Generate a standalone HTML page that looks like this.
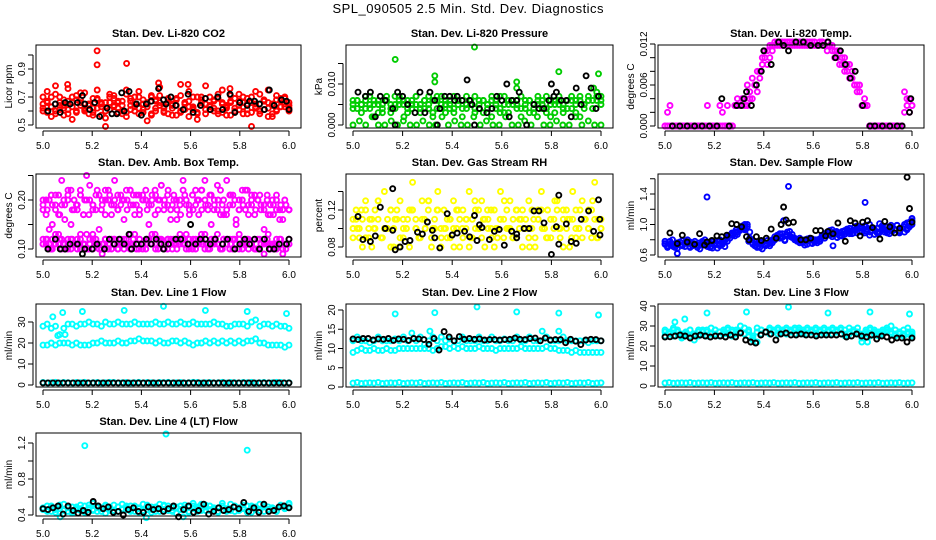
<!DOCTYPE html>
<html><head><meta charset="utf-8">
<style>
html,body{margin:0;padding:0;background:#fff;}
svg{display:block;font-family:"Liberation Sans",sans-serif;}
</style></head>
<body>
<svg id="chart" width="936" height="540" viewBox="0 0 936 540" xmlns="http://www.w3.org/2000/svg">
<rect width="936" height="540" fill="#fff"/>
<text x="468" y="13" font-size="13" text-anchor="middle" textLength="271">SPL_090505  2.5 Min. Std. Dev. Diagnostics</text>
</svg>
<script>
// ---------- data (x evenly spaced 5.0..6.0 when no x array) ----------
const co2A=[0.62,0.66,0.70,0.60,0.64,0.68,0.58,0.63,0.71,0.66,0.60,0.65,0.69,0.62,0.57,0.66,0.70,0.64,0.59,0.67,0.72,0.61,0.65,0.58,0.68,0.63,0.70,0.60,0.66,0.62,0.69,0.57,0.64,0.71,0.61,0.67,0.63,0.59,0.68,0.65,0.70,0.62,0.58,0.66,0.64,0.71,0.60,0.67,0.63,0.69,0.59,0.65,0.72,0.61,0.66,0.58,0.68,0.63,0.70,0.62];
const co2B=[0.65,0.59,0.63,0.72,0.61,0.57,0.67,0.70,0.60,0.64,0.73,0.58,0.62,0.68,0.65,0.55,0.61,0.69,0.66,0.60,0.56,0.64,0.70,0.62,0.59,0.66,0.57,0.67,0.71,0.63,0.58,0.65,0.68,0.60,0.66,0.56,0.62,0.70,0.64,0.58,0.61,0.67,0.72,0.59,0.63,0.57,0.69,0.61,0.66,0.58,0.70,0.62,0.60,0.67,0.56,0.64,0.61,0.69,0.65,0.60];
const co2C=[0.70,0.74,0.56,0.78,0.66,0.62,0.76,0.54,0.68,0.73,0.61,0.64,0.59,0.75,0.66,0.49,0.72,0.63,0.67,0.58,0.75,0.69,0.60,0.74,0.65,0.53,0.71,0.62,0.77,0.59,0.68,0.64,0.57,0.79,0.66,0.74,0.61,0.54,0.70,0.78,0.63,0.60,0.69,0.75,0.57,0.66,0.62,0.72,0.58,0.65,0.49,0.74,0.60,0.67,0.75,0.56,0.71,0.63,0.69,0.66];
const co2D=[0.60,0.67,0.63,0.58,0.70,0.64,0.61,0.66,0.59,0.68,0.62,0.65,0.57,0.69,0.63,0.60,0.66,0.71,0.62,0.64,0.59,0.67,0.63,0.70,0.61,0.65,0.58,0.68,0.64,0.60,0.66,0.62,0.69,0.59,0.65,0.63,0.70,0.58,0.66,0.61,0.64,0.68,0.60,0.65,0.62,0.67,0.59,0.64,0.70,0.61,0.66,0.63,0.58,0.68,0.62,0.65,0.60,0.67,0.63,0.64];
const co2OutX=[5.22,5.22,5.34,5.10,5.47,5.59,5.76];
const co2OutY=[1.03,0.93,0.94,0.79,0.80,0.79,0.76];
const co2BlkX=[5.02,5.05,5.07,5.09,5.11,5.14,5.16,5.17,5.19,5.21,5.23,5.26,5.28,5.30,5.32,5.33,5.35,5.38,5.40,5.42,5.44,5.47,5.49,5.50,5.52,5.54,5.57,5.59,5.61,5.64,5.66,5.68,5.71,5.73,5.76,5.78,5.80,5.83,5.84,5.86,5.88,5.90,5.92,5.94,5.97,5.99,6.00];
const co2BlkY=[0.60,0.65,0.59,0.66,0.65,0.66,0.71,0.65,0.61,0.66,0.56,0.62,0.58,0.58,0.73,0.60,0.74,0.65,0.57,0.65,0.67,0.76,0.68,0.65,0.70,0.64,0.61,0.72,0.59,0.64,0.69,0.61,0.70,0.61,0.72,0.59,0.66,0.64,0.67,0.67,0.65,0.61,0.75,0.64,0.68,0.67,0.61];

const presA=[0.006,0.004,0.003,0.006,0.005,0.002,0.006,0.004,0.006,0.003,0.005,0.006,0.001,0.004,0.006,0.005,0.003,0.006,0.004,0.002,0.006,0.005,0.003,0.006,0.004,0.006,0.002,0.005,0.006,0.003,0.004,0.006,0.005,0.002,0.006,0.004,0.003,0.006,0.005,0.006,0.002,0.004,0.006,0.003,0.005,0.006,0.004,0.002,0.006,0.005,0.003,0.006,0.004,0.006,0.002,0.005,0.006,0.004,0.007,0.006];
const presB=[0.005,0.006,0.005,0.004,0.007,0.005,0.003,0.005,0.007,0.005,0.004,0.007,0.005,0.006,0.004,0.007,0.005,0.004,0.007,0.006,0.004,0.007,0.005,0.004,0.007,0.005,0.006,0.004,0.005,0.007,0.005,0.006,0.004,0.007,0.005,0.003,0.007,0.005,0.006,0.004,0.007,0.005,0.006,0.004,0.007,0.005,0.003,0.006,0.005,0.007,0.004,0.006,0.007,0.005,0.006,0.004,0.007,0.006,0.008,0.007];
const presC=[0.000,0.001,0.000,0.002,0.000,0.000,0.001,0.000,0.002,0.000,0.000,0.001,0.000,0.000,0.002,0.000,0.001,0.000,0.000,0.002,0.000,0.001,0.000,0.000,0.002,0.000,0.000,0.001,0.000,0.002,0.000,0.000,0.001,0.000,0.000,0.002,0.000,0.001,0.000,0.000];
const presD=[0.004,0.006,0.005,0.007,0.004,0.006,0.005,0.003,0.006,0.004,0.007,0.005,0.006,0.003,0.005,0.007,0.004,0.006,0.005,0.003,0.007,0.004,0.006,0.005,0.003,0.006,0.004,0.007,0.005,0.004,0.006,0.003,0.005,0.006,0.004,0.007,0.005,0.003,0.006,0.005,0.004,0.006,0.003,0.005,0.006,0.004,0.007,0.005,0.003,0.006,0.005,0.004,0.006,0.003,0.007,0.005,0.006,0.004,0.006,0.005];
const presOutX=[5.17,5.49,5.33,5.33,5.83,5.99,5.66,5.66,5.97];
const presOutY=[0.016,0.019,0.012,0.0105,0.013,0.0125,0.0105,0.009,0.009];
const presBlkX=[5.02,5.05,5.07,5.09,5.11,5.13,5.16,5.17,5.18,5.20,5.22,5.25,5.27,5.29,5.31,5.33,5.34,5.35,5.37,5.39,5.41,5.42,5.44,5.46,5.47,5.48,5.49,5.51,5.54,5.56,5.58,5.60,5.62,5.63,5.64,5.66,5.67,5.70,5.73,5.75,5.77,5.79,5.80,5.81,5.82,5.84,5.86,5.88,5.90,5.92,5.94,5.96,5.98,5.99];
const presBlkY=[0.008,0.007,0.008,0.002,0.007,0.006,0.004,0.000,0.008,0.007,0.005,0.003,0.008,0.003,0.008,0.006,0.000,0.004,0.007,0.007,0.006,0.007,0.006,0.011,0.006,0.005,0.000,0.004,0.003,0.004,0.007,0.006,0.010,0.002,0.006,0.006,0.008,0.000,0.005,0.004,0.004,0.006,0.010,0.007,0.008,0.006,0.006,0.002,0.009,0.005,0.012,0.009,0.004,0.007];

const tempA=[0,0.002,0.003,0,0,0,0,0,0,0,0,0,0,0,0,0,0,0.003,0,0,0,0,0.003,0.002,0,0.003,0,0,0.003,0.003,0.003,0.004,0.004,0.003,0.005,0.004,0.006,0.005,0.008,0.009,0.010,0.011,0.010,0.0118,0.0118,0.0123,0.0118,0.0123,0.0123,0.0118,0.0123,0.0123,0.0118,0.0123,0.0123,0.0118,0.0123,0.0123,0.0123,0.0118,0.0123,0.0118,0.0123,0.0123,0.0118,0.0123,0.0118,0.0118,0.011,0.010,0.011,0.009,0.010,0.008,0.009,0.007,0.006,0.006,0.005,0.003,0.003,0.003,0,0,0,0,0,0,0,0,0,0,0,0,0,0,0.002,0.003,0.004,0.003];
const tempB=[0,0,0,0,0,0,0,0,0,0,0,0,0,0,0,0,0,0,0,0,0,0,0,0,0,0,0,0,0.003,0.004,0.003,0.004,0.003,0.006,0.004,0.007,0.006,0.008,0.007,0.010,0.011,0.009,0.0118,0.011,0.0123,0.0118,0.0123,0.0118,0.0118,0.0123,0.0118,0.0118,0.0123,0.0118,0.0118,0.0123,0.0118,0.0118,0.0118,0.0123,0.0118,0.0118,0.0118,0.0123,0.0118,0.011,0.0118,0.011,0.010,0.011,0.009,0.010,0.008,0.009,0.007,0.008,0.006,0.005,0.006,0.003,0.004,0.003,0,0,0,0,0,0,0,0,0,0,0,0,0,0,0.005,0.004,0.002,0.003];
const tempBlkX=[5.03,5.06,5.09,5.12,5.15,5.18,5.21,5.23,5.26,5.29,5.31,5.32,5.33,5.35,5.37,5.39,5.40,5.43,5.46,5.48,5.50,5.53,5.56,5.59,5.62,5.64,5.66,5.69,5.71,5.73,5.75,5.77,5.80,5.83,5.85,5.88,5.91,5.94,5.96,5.99,5.995];
const tempBlkY=[0,0,0,0,0,0,0,0.004,0,0.003,0.003,0.004,0.005,0.003,0.006,0.008,0.011,0.009,0.0123,0.0118,0.011,0.0123,0.0123,0.0118,0.0118,0.0118,0.0123,0.010,0.011,0.009,0.007,0.008,0.003,0,0,0,0,0,0,0.002,0.004];

const ambA=[0.19,0.17,0.20,0.15,0.18,0.21,0.19,0.16,0.20,0.22,0.18,0.19,0.21,0.17,0.20,0.23,0.19,0.18,0.21,0.20,0.17,0.22,0.19,0.20,0.18,0.21,0.16,0.20,0.22,0.19,0.21,0.18,0.20,0.22,0.19,0.21,0.17,0.20,0.23,0.19,0.21,0.18,0.20,0.16,0.19,0.22,0.20,0.18,0.21,0.19,0.17,0.22,0.20,0.18,0.21,0.19,0.23,0.17,0.20,0.18,0.21,0.19,0.16,0.20,0.22,0.18,0.19,0.21,0.17,0.20,0.19,0.18,0.21,0.17,0.19,0.20,0.16,0.18,0.19,0.18];
const ambB=[0.18,0.20,0.14,0.19,0.21,0.17,0.24,0.19,0.21,0.15,0.20,0.18,0.22,0.17,0.25,0.20,0.18,0.21,0.14,0.19,0.22,0.20,0.17,0.24,0.21,0.19,0.20,0.18,0.22,0.21,0.19,0.17,0.21,0.20,0.15,0.20,0.22,0.18,0.23,0.20,0.19,0.16,0.21,0.18,0.20,0.24,0.19,0.17,0.21,0.22,0.20,0.18,0.24,0.19,0.15,0.20,0.18,0.22,0.17,0.24,0.19,0.21,0.15,0.18,0.20,0.22,0.17,0.19,0.21,0.20,0.18,0.14,0.20,0.19,0.17,0.21,0.18,0.16,0.19,0.18];
const ambE=[0.20,0.18,0.21,0.19,0.17,0.20,0.22,0.18,0.19,0.21,0.20,0.17,0.19,0.22,0.18,0.20,0.21,0.19,0.18,0.20,0.22,0.19,0.17,0.21,0.20,0.18,0.19,0.21,0.20,0.18,0.22,0.19,0.20,0.17,0.21,0.19,0.18,0.20,0.22,0.19,0.21,0.18,0.20,0.19,0.17,0.21,0.20,0.18,0.19,0.22,0.20,0.18,0.21,0.19,0.17,0.20,0.18,0.19,0.20,0.18];
const ambC=[0.12,0.11,0.10,0.12,0.11,0.13,0.10,0.11,0.12,0.10,0.11,0.12,0.10,0.11,0.13,0.11,0.10,0.12,0.11,0.09,0.12,0.11,0.10,0.12,0.11,0.12,0.10,0.11,0.13,0.11,0.10,0.12,0.11,0.10,0.12,0.11,0.13,0.12,0.11,0.10,0.12,0.11,0.12,0.10,0.11,0.12,0.13,0.11,0.10,0.12,0.11,0.12,0.10,0.11,0.12,0.11,0.13,0.10,0.12,0.11,0.10,0.12,0.11,0.12,0.10,0.11,0.12,0.11,0.10,0.12,0.11,0.09,0.12,0.11,0.10,0.11,0.12,0.10,0.11,0.11];
const ambD=[0.11,0.12,0.11,0.10,0.13,0.11,0.12,0.10,0.11,0.12,0.11,0.10,0.12,0.11,0.10,0.12,0.13,0.11,0.10,0.11,0.12,0.10,0.12,0.11,0.10,0.11,0.12,0.11,0.10,0.12,0.11,0.12,0.10,0.11,0.12,0.13,0.11,0.10,0.12,0.11,0.10,0.12,0.11,0.12,0.13,0.11,0.10,0.12,0.11,0.10,0.12,0.11,0.13,0.10,0.11,0.12,0.11,0.10,0.12,0.11,0.12,0.10,0.11,0.13,0.11,0.12,0.10,0.11,0.12,0.10,0.11,0.12,0.11,0.10,0.11,0.12,0.11,0.09,0.10,0.12];
const ambF=[0.11,0.12,0.10,0.11,0.12,0.11,0.10,0.12,0.11,0.13,0.11,0.10,0.12,0.11,0.10,0.12,0.11,0.12,0.10,0.11,0.12,0.11,0.13,0.10,0.11,0.12,0.11,0.10,0.12,0.11,0.12,0.10,0.11,0.12,0.11,0.10,0.12,0.11,0.13,0.11,0.10,0.12,0.11,0.10,0.12,0.11,0.12,0.10,0.11,0.12,0.11,0.10,0.12,0.11,0.13,0.11,0.10,0.12,0.11,0.11];
const ambBlkX=[5.02,5.05,5.07,5.09,5.11,5.14,5.16,5.17,5.20,5.22,5.25,5.27,5.29,5.31,5.33,5.35,5.36,5.38,5.40,5.42,5.44,5.46,5.48,5.49,5.51,5.54,5.56,5.59,5.60,5.62,5.64,5.66,5.68,5.70,5.73,5.75,5.78,5.80,5.82,5.84,5.86,5.88,5.90,5.92,5.94,5.96,5.99,6.00];
const ambBlkY=[0.10,0.12,0.10,0.10,0.11,0.11,0.09,0.10,0.10,0.11,0.10,0.12,0.11,0.12,0.11,0.13,0.10,0.11,0.11,0.12,0.11,0.12,0.11,0.10,0.11,0.12,0.12,0.11,0.15,0.11,0.12,0.12,0.11,0.12,0.11,0.12,0.10,0.11,0.12,0.11,0.12,0.10,0.12,0.10,0.10,0.11,0.11,0.12];

const rhA=[0.10,0.12,0.09,0.11,0.13,0.10,0.08,0.12,0.11,0.09,0.14,0.10,0.12,0.08,0.11,0.13,0.09,0.10,0.12,0.15,0.11,0.09,0.13,0.10,0.12,0.08,0.11,0.14,0.10,0.12,0.09,0.11,0.13,0.10,0.08,0.12,0.11,0.14,0.09,0.10,0.12,0.13,0.08,0.11,0.10,0.12,0.09,0.14,0.11,0.10,0.13,0.09,0.12,0.11,0.08,0.10,0.13,0.12,0.09,0.11,0.14,0.10,0.12,0.09,0.11,0.13,0.10,0.08,0.12,0.11,0.14,0.09,0.10,0.13,0.11,0.12,0.09,0.15,0.11,0.10];
const rhB=[0.09,0.11,0.10,0.08,0.12,0.09,0.11,0.10,0.13,0.09,0.10,0.11,0.08,0.10,0.12,0.09,0.11,0.10,0.08,0.12,0.10,0.09,0.11,0.10,0.13,0.09,0.10,0.12,0.08,0.10,0.11,0.09,0.10,0.12,0.11,0.09,0.10,0.08,0.11,0.12,0.10,0.09,0.11,0.10,0.12,0.08,0.10,0.11,0.09,0.12,0.10,0.11,0.09,0.10,0.12,0.11,0.09,0.10,0.08,0.11,0.12,0.10,0.09,0.11,0.10,0.12,0.09,0.11,0.10,0.08,0.11,0.12,0.10,0.09,0.11,0.10,0.12,0.11,0.09,0.10];
const rhC=[0.11,0.10,0.12,0.09,0.11,0.10,0.13,0.09,0.10,0.12,0.11,0.08,0.10,0.11,0.12,0.10,0.09,0.11,0.13,0.10,0.12,0.09,0.10,0.11,0.08,0.12,0.10,0.11,0.09,0.13,0.10,0.11,0.12,0.09,0.10,0.11,0.13,0.10,0.09,0.12,0.11,0.10,0.08,0.11,0.12,0.10,0.09,0.11,0.13,0.10,0.12,0.11,0.09,0.10,0.12,0.11,0.10,0.13,0.09,0.11];
const rhBlkX=[5.02,5.04,5.07,5.09,5.11,5.13,5.16,5.16,5.17,5.19,5.21,5.23,5.26,5.28,5.30,5.32,5.33,5.35,5.38,5.40,5.42,5.45,5.47,5.49,5.50,5.51,5.52,5.55,5.57,5.59,5.61,5.64,5.66,5.66,5.69,5.71,5.73,5.75,5.77,5.80,5.82,5.83,5.83,5.86,5.88,5.90,5.92,5.95,5.97,5.99,5.995,5.996];
const rhBlkY=[0.113,0.088,0.086,0.092,0.123,0.100,0.143,0.098,0.077,0.080,0.086,0.087,0.096,0.094,0.107,0.098,0.090,0.079,0.116,0.093,0.095,0.097,0.091,0.114,0.087,0.104,0.101,0.088,0.097,0.099,0.082,0.097,0.094,0.090,0.100,0.100,0.119,0.119,0.106,0.072,0.102,0.083,0.136,0.105,0.086,0.084,0.110,0.119,0.097,0.131,0.110,0.093];

const flowA=[0.75,0.72,0.78,0.74,0.70,0.76,0.73,0.79,0.71,0.75,0.77,0.72,0.74,0.70,0.76,0.78,0.73,0.71,0.75,0.69,0.74,0.78,0.72,0.76,0.79,0.82,0.86,0.88,0.85,0.90,0.94,0.98,1.00,0.97,0.82,0.76,0.72,0.75,0.70,0.78,0.73,0.74,0.77,0.80,0.84,0.86,0.82,0.88,0.80,0.90,0.85,0.87,0.82,0.78,0.82,0.76,0.80,0.74,0.79,0.81,0.77,0.80,0.78,0.84,0.88,0.86,0.92,0.84,0.90,0.88,0.85,0.91,0.87,0.90,0.95,0.88,0.93,0.98,0.91,0.96,0.89,0.94,1.00,0.92,0.87,0.95,0.90,0.98,0.93,0.89,0.96,0.91,0.94,0.99,0.92,0.95,0.90,1.02,0.97,1.05];
const flowB=[0.78,0.70,0.74,0.80,0.73,0.69,0.77,0.72,0.76,0.80,0.71,0.75,0.78,0.73,0.68,0.74,0.80,0.76,0.70,0.77,0.73,0.69,0.80,0.74,0.71,0.78,0.82,0.86,0.90,0.87,0.92,0.95,0.93,1.00,0.90,0.80,0.78,0.71,0.76,0.68,0.74,0.79,0.72,0.76,0.80,0.83,0.88,0.84,0.79,0.86,0.91,0.83,0.80,0.80,0.76,0.79,0.73,0.78,0.82,0.75,0.79,0.76,0.81,0.86,0.82,0.90,0.86,0.93,0.87,0.83,0.89,0.85,0.92,0.94,0.88,0.92,0.97,0.89,0.95,0.90,0.98,0.91,0.86,0.96,0.93,0.89,1.01,0.94,0.90,0.97,0.88,0.96,0.93,0.99,0.89,0.95,1.00,0.93,1.03,1.08];
const flowC=[0.74,0.77,0.71,0.76,0.73,0.78,0.70,0.75,0.72,0.77,0.74,0.71,0.76,0.73,0.78,0.84,0.89,0.93,0.96,0.95,0.78,0.74,0.70,0.77,0.72,0.75,0.79,0.85,0.83,0.87,0.84,0.81,0.79,0.77,0.81,0.76,0.80,0.78,0.85,0.89,0.87,0.91,0.86,0.88,0.92,0.89,0.95,0.91,0.97,0.90,0.94,0.88,0.96,0.92,0.99,0.93,0.91,0.97,0.95,1.00];
const flowOutX=[5.17,5.50,5.81,5.05,5.68,5.48];
const flowOutY=[1.36,1.50,1.29,0.62,0.72,1.05];
const flowBlkX=[5.02,5.05,5.07,5.09,5.12,5.14,5.16,5.17,5.19,5.21,5.23,5.25,5.27,5.29,5.31,5.33,5.34,5.37,5.39,5.41,5.43,5.45,5.47,5.48,5.49,5.50,5.52,5.55,5.57,5.59,5.61,5.63,5.65,5.66,5.68,5.70,5.73,5.75,5.77,5.79,5.80,5.82,5.84,5.87,5.89,5.91,5.93,5.95,5.98,5.99,6.00];
const flowBlkY=[0.89,0.75,0.86,0.77,0.74,0.88,0.73,0.77,0.79,0.85,0.84,0.86,1.01,1.00,0.97,0.84,0.80,0.84,0.79,0.82,0.94,0.82,1.00,1.23,1.06,1.02,1.03,0.80,0.80,0.82,0.92,0.92,0.85,0.91,0.88,1.02,0.78,1.05,1.02,0.85,1.03,1.05,0.96,0.81,1.04,0.97,0.89,0.95,1.62,1.21,1.03];

const l1Top=[28,29,27,28,24,27,29,29,28,29,29,30,29,29,28,30,29,29,30,29,29,29,30,29,29,29,29,30,29,29,30,29,29,30,29,29,30,29,29,29,29,30,29,29,28,28,29,29,29,28,30,31,28,29,29,28,29,28,28,27];
const l1Mid=[19,19,20,19,20,20,20,19,20,19,19,19,20,20,21,20,20,20,21,20,20,21,21,22,21,21,21,20,21,20,20,21,21,20,21,20,19,20,20,21,20,21,20,21,20,21,20,21,20,21,21,22,20,20,19,19,19,19,18,19];
const l1Low=[1.2,1.0,1.1,1.3,1.0,1.2,1.1,1.0,1.2,1.1,1.3,1.0,1.1,1.2,1.0,1.1,1.3,1.2,1.0,1.1,1.2,1.0,1.1,1.3,1.0,1.2,1.1,1.0,1.2,1.1,1.3,1.0,1.1,1.2,1.0,1.1,1.3,1.2,1.0,1.1,1.2,1.0,1.1,1.3,1.0,1.2,1.1,1.0,1.2,1.1,1.3,1.0,1.1,1.2,1.0,1.1,1.3,1.2,1.0,1.1];
const l1OutX=[5.04,5.08,5.16,5.33,5.49,5.66,5.83,5.99,5.06,5.09];
const l1OutY=[32.5,34.5,35,35.5,37.5,35.5,35,34,23.5,24];
const l1Blk=[1,1,1,1,1,1,1,1,1,1,1,1,1,1,1,1,1,1,1,1,1,1,1,1,1,1,1,1,1,1,1,1,1,1,1,1,1,1,1,1,1,1,1,1,1,1,1,1,1,1];

const l2Top=[12,13,12,12,11.5,12,13,12,12,12,12.5,12,13,12,14,12,13,11,12,13,12,13,12,12.5,12,12,13,12,12,12,13,12,12,13,12,12,12.5,12,12,13,12,12,13,12,12,14.5,13,12,12,12,13,12,12,12,12,12,11.5,12,12,12];
const l2Mid=[9,9.5,10,9.5,9.5,10,9.5,9.5,10,9.5,9.5,10,10,10,10,10,10,10,10,9.5,10,10.5,10.5,10,10.5,10,10.5,10,10,10,10.5,10,10,10,9.5,10,10,10,10,10,10.5,10,10,10,10,10,10.5,10,10,9.5,9.5,9.5,9,9.5,9,9,9,9,9,9];
const l2Low=[1,1.2,0.9,1,1.1,1,1.2,0.9,1,1.1,1,1.2,0.9,1,1.1,1,1.2,0.9,1,1.1,1,1.2,0.9,1,1.1,1,1.2,0.9,1,1.1,1,1.2,0.9,1,1.1,1,1.2,0.9,1,1.1,1,1.2,0.9,1,1.1,1,1.2,0.9,1,1.1,1,1.2,0.9,1,1.1,1,1.2,0.9,1,1.1];
const l2OutX=[5.17,5.33,5.50,5.66,5.83,5.99,5.31,5.83];
const l2OutY=[19,19.3,20.8,19.5,19.2,18.7,14.5,14.5];
const l2Blk=[12.5,12.3,12.6,12.6,12.2,12.5,12.4,12.6,12.1,12.5,12.4,12.1,12.6,12.5,12.3,11.1,12.6,9.6,14.4,13.0,12.0,13.1,12.4,12.6,12.4,12.5,12.2,12.3,12.3,12.2,12.3,12.4,12.7,12.4,12.3,12.6,12.7,12.0,12.7,12.2,12.3,12.3,11.5,12.4,11.9,11.0,12.2,12.4,12.3,12.0];

const l3A=[28,27,29,28,24,27,28,23,28,27,28,29,28,27,28,29,28,27,30,29,28,23,29,28,27,29,28,29,28,29,28,29,29,28,29,28,29,28,29,28,29,28,29,28,29,28,29,22,28,29,28,27,28,29,30,28,27,28,29,27];
const l3B=[25,26,25,27,25,26,25,26,25,27,25,26,26,25,27,26,25,26,27,26,25,24,22,26,27,26,27,26,27,26,27,26,27,26,26,27,26,27,26,27,26,27,26,25,26,27,26,24,26,25,26,25,26,27,26,25,26,25,26,25];
const l3C=[27,26,28,27,26,27,28,26,27,28,27,26,28,27,26,28,27,28,27,26,27,25,27,28,27,28,27,28,27,28,27,28,28,27,28,27,28,27,28,27,28,27,28,26,27,28,27,26,27,28,27,26,27,28,27,26,27,26,27,26];
const l3Low=[1.5,1.7,1.4,1.5,1.6,1.5,1.7,1.4,1.5,1.6,1.5,1.7,1.4,1.5,1.6,1.5,1.7,1.4,1.5,1.6,1.5,1.7,1.4,1.5,1.6,1.5,1.7,1.4,1.5,1.6,1.5,1.7,1.4,1.5,1.6,1.5,1.7,1.4,1.5,1.6,1.5,1.7,1.4,1.5,1.6,1.5,1.7,1.4,1.5,1.6,1.5,1.7,1.4,1.5,1.6,1.5,1.7,1.4,1.5,1.6];
const l3OutX=[5.04,5.08,5.17,5.33,5.50,5.66,5.83,5.99,5.82];
const l3OutY=[32,33.5,36.5,37,39.5,36.5,37,36,22];
const l3Blk=[24.5,24.6,25,25.5,25,24,25,25.5,25,24.5,25,25,24.5,25.5,24.5,26.5,23,22,21.5,25.5,27,26,23,26,26.5,25.5,25.5,26,25.5,25.5,25,25.5,25.5,25.5,25.5,26,24.5,25,26,25,24.5,25.5,23.5,25,24.5,23,24,24,22,24];

const l4A=[0.48,0.45,0.50,0.43,0.47,0.52,0.44,0.49,0.46,0.51,0.43,0.48,0.45,0.50,0.47,0.42,0.49,0.51,0.44,0.47,0.50,0.45,0.48,0.43,0.52,0.46,0.49,0.44,0.47,0.51,0.45,0.48,0.42,0.50,0.46,0.49,0.53,0.44,0.47,0.51,0.45,0.48,0.43,0.50,0.46,0.52,0.44,0.48,0.47,0.50,0.43,0.49,0.45,0.51,0.46,0.48,0.44,0.50,0.47,0.52];
const l4B=[0.46,0.50,0.44,0.48,0.51,0.45,0.49,0.42,0.47,0.45,0.50,0.46,0.53,0.44,0.48,0.51,0.45,0.43,0.49,0.52,0.46,0.50,0.44,0.48,0.45,0.51,0.43,0.49,0.52,0.46,0.50,0.44,0.48,0.46,0.51,0.43,0.47,0.49,0.52,0.45,0.50,0.46,0.48,0.53,0.44,0.47,0.50,0.45,0.51,0.43,0.48,0.46,0.52,0.44,0.49,0.47,0.45,0.51,0.48,0.53];
const l4C=[0.47,0.44,0.49,0.46,0.50,0.45,0.48,0.43,0.49,0.47,0.45,0.51,0.46,0.48,0.44,0.50,0.47,0.45,0.49,0.46,0.48,0.44,0.50,0.47,0.45,0.49,0.46,0.48,0.44,0.50,0.47,0.45,0.49,0.46,0.48,0.44,0.50,0.47,0.45,0.49,0.46,0.48,0.44,0.50,0.47,0.45,0.49,0.46,0.48,0.44,0.50,0.47,0.45,0.49,0.46,0.48,0.44,0.50,0.47,0.49];
const l4OutX=[5.17,5.50,5.83,5.07,5.42,5.57];
const l4OutY=[1.17,1.30,1.12,0.38,0.37,0.38];
const l4Blk=[0.47,0.46,0.48,0.50,0.41,0.50,0.45,0.42,0.45,0.43,0.55,0.50,0.47,0.49,0.43,0.44,0.40,0.46,0.48,0.44,0.43,0.49,0.46,0.47,0.44,0.47,0.50,0.38,0.46,0.50,0.43,0.45,0.52,0.41,0.44,0.48,0.45,0.46,0.49,0.47,0.54,0.44,0.48,0.43,0.52,0.44,0.45,0.49,0.50,0.48];

const xTicks=[5.0,5.2,5.4,5.6,5.8,6.0];
const xTickLabels=["5.0","5.2","5.4","5.6","5.8","6.0"];

// ---------- layout ----------
const colL=[36,346,658], colR=[301,613,924], rowT=[45,174,304,433], boxH=83;
const RED="#ff0000",GRN="#00cc00",MAG="#ff00ff",YEL="#ffff00",BLU="#0000ff",CYN="#00ffff",BLK="#000000";
const panels=[
 {name:"co2",title:"Stan. Dev. Li-820 CO2",yl:"Licor ppm",c:0,r:0,ys:[0.5,125,0.9,69],ticks:[0.5,0.6,0.7,0.8,0.9,1.0],labs:{"0.5":"0.5","0.7":"0.7","0.9":"0.9"},
  series:[[null,co2A,RED],[null,co2B,RED],[null,co2C,RED],[null,co2D,RED],[co2OutX,co2OutY,RED],[co2BlkX,co2BlkY,BLK]]},
 {name:"pressure",title:"Stan. Dev. Li-820 Pressure",yl:"kPa",c:1,r:0,ys:[0,125,0.010,84],ticks:[0,0.005,0.010,0.015],labs:{"0":"0.000","0.01":"0.010"},
  series:[[null,presC,GRN],[null,presA,GRN],[null,presB,GRN],[null,presD,GRN],[presOutX,presOutY,GRN],[presBlkX,presBlkY,BLK]]},
 {name:"temp",title:"Stan. Dev. Li-820 Temp.",yl:"degrees C",c:2,r:0,ys:[0,126,0.012,44],ticks:[0,0.002,0.004,0.006,0.008,0.010,0.012],labs:{"0":"0.000","0.006":"0.006","0.012":"0.012"},
  series:[[null,tempA,MAG],[null,tempB,MAG],[tempBlkX,tempBlkY,BLK]]},
 {name:"amb-box-temp",title:"Stan. Dev. Amb. Box Temp.",yl:"degrees C",c:0,r:1,ys:[0.10,249,0.20,200],ticks:[0.10,0.15,0.20,0.25],labs:{"0.1":"0.10","0.2":"0.20"},
  series:[[null,ambA,MAG],[null,ambB,MAG],[null,ambE,MAG],[null,ambC,MAG],[null,ambD,MAG],[null,ambF,MAG],[ambBlkX,ambBlkY,BLK]]},
 {name:"gas-rh",title:"Stan. Dev. Gas Stream RH",yl:"percent",c:1,r:1,ys:[0.08,247,0.12,210],ticks:[0.08,0.10,0.12,0.14],labs:{"0.08":"0.08","0.12":"0.12"},
  series:[[null,rhA,YEL],[null,rhB,YEL],[null,rhC,YEL],[rhBlkX,rhBlkY,BLK]]},
 {name:"sample-flow",title:"Stan. Dev. Sample Flow",yl:"ml/min",c:2,r:1,ys:[0.6,255,1.4,194],ticks:[0.6,0.8,1.0,1.2,1.4,1.6],labs:{"0.6":"0.6","1":"1.0","1.4":"1.4"},
  series:[[null,flowA,BLU],[null,flowB,BLU],[null,flowC,BLU],[flowOutX,flowOutY,BLU],[flowBlkX,flowBlkY,BLK]]},
 {name:"line1-flow",title:"Stan. Dev. Line 1 Flow",yl:"ml/min",c:0,r:2,ys:[0,385,30,322],ticks:[0,10,20,30],labs:{"0":"0","10":"10","20":"20","30":"30"},
  series:[[null,l1Top,CYN],[null,l1Mid,CYN],[null,l1Low,CYN],[l1OutX,l1OutY,CYN],[null,l1Blk,BLK]]},
 {name:"line2-flow",title:"Stan. Dev. Line 2 Flow",yl:"ml/min",c:1,r:2,ys:[0,387,20,310],ticks:[0,5,10,15,20],labs:{"0":"0","5":"5","10":"10","15":"15","20":"20"},
  series:[[null,l2Top,CYN],[null,l2Mid,CYN],[null,l2Low,CYN],[l2OutX,l2OutY,CYN],[null,l2Blk,BLK]]},
 {name:"line3-flow",title:"Stan. Dev. Line 3 Flow",yl:"ml/min",c:2,r:2,ys:[0,386,40,306],ticks:[0,10,20,30,40],labs:{"0":"0","10":"10","20":"20","30":"30","40":"40"},
  series:[[null,l3A,CYN],[null,l3B,CYN],[null,l3C,CYN],[null,l3Low,CYN],[l3OutX,l3OutY,CYN],[null,l3Blk,BLK]]},
 {name:"line4-flow",title:"Stan. Dev. Line 4 (LT) Flow",yl:"ml/min",c:0,r:3,ys:[0.4,515,1.2,443],ticks:[0.4,0.6,0.8,1.0,1.2],labs:{"0.4":"0.4","0.8":"0.8","1.2":"1.2"},
  series:[[null,l4A,CYN],[null,l4B,CYN],[null,l4C,CYN],[l4OutX,l4OutY,CYN],[null,l4Blk,BLK]]}
];

const NS="http://www.w3.org/2000/svg";
const svg=document.getElementById('chart');
function mk(tag,attrs,parent){const e=document.createElementNS(NS,tag);for(const k in attrs)e.setAttribute(k,attrs[k]);(parent||svg).appendChild(e);return e;}

panels.forEach(p=>{
  const L=colL[p.c],R=colR[p.c],T=rowT[p.r],B=T+boxH;
  const x5=L+7,x6=R-12;
  const sx=v=>x5+(v-5)*(x6-x5);
  const sy=v=>p.ys[1]+(v-p.ys[0])*(p.ys[3]-p.ys[1])/(p.ys[2]-p.ys[0]);
  const g=mk('g',{});
  
  
  const t=mk('text',{x:(L+R)/2,y:T-8,'font-size':11,'font-weight':'bold','text-anchor':'middle'},g);
  t.textContent=p.title;
  
  
  const pg=mk('g',{fill:'none','stroke-width':1.9},g);
  
  
  p.series.forEach(s=>{
    const xs=s[0],ys=s[1],n=ys.length;
    for(let i=0;i<n;i++){
      const xv=xs?xs[i]:5+i/(n-1);
      if(xv===undefined)continue;
      const c=mk('circle',{cx:sx(xv).toFixed(1),cy:sy(ys[i]).toFixed(1),r:2.5,stroke:s[2]},pg);
      
      
    }
  });
  const box=mk('rect',{x:L,y:T,width:R-L,height:boxH,fill:'none',stroke:'#000','stroke-width':1},g);
  
  
  const xa=mk('g',{},g);
  
  
  mk('line',{x1:sx(xTicks[0]),x2:sx(xTicks[xTicks.length-1]),y1:B+3,y2:B+3,stroke:'#000'},xa);
  xTicks.forEach((v,i)=>{
    mk('line',{x1:sx(v),x2:sx(v),y1:B+3,y2:B+8,stroke:'#000'},xa);
    const tl=mk('text',{x:sx(v),y:B+21,'font-size':10,'text-anchor':'middle'},xa);
    tl.textContent=xTickLabels[i];
  });
  const ya=mk('g',{},g);
  
  
  mk('line',{x1:L-3,x2:L-3,y1:sy(p.ticks[0]),y2:sy(p.ticks[p.ticks.length-1]),stroke:'#000'},ya);
  p.ticks.forEach(v=>{
    const y=sy(v);
    mk('line',{x1:L-8,x2:L-3,y1:y,y2:y,stroke:'#000'},ya);
    const key=String(+v.toFixed(4));
    if(p.labs[key]!==undefined){
      const tl=mk('text',{x:0,y:0,'font-size':10,'text-anchor':'middle',transform:`translate(${L-11},${y}) rotate(-90)`},ya);
      tl.textContent=p.labs[key];
    }
  });
  const yl=mk('text',{x:0,y:0,'font-size':10,'text-anchor':'middle',transform:`translate(${L-24},${T+boxH/2}) rotate(-90)`},g);
  yl.textContent=p.yl;
  
  
});
</script>
</body></html>
